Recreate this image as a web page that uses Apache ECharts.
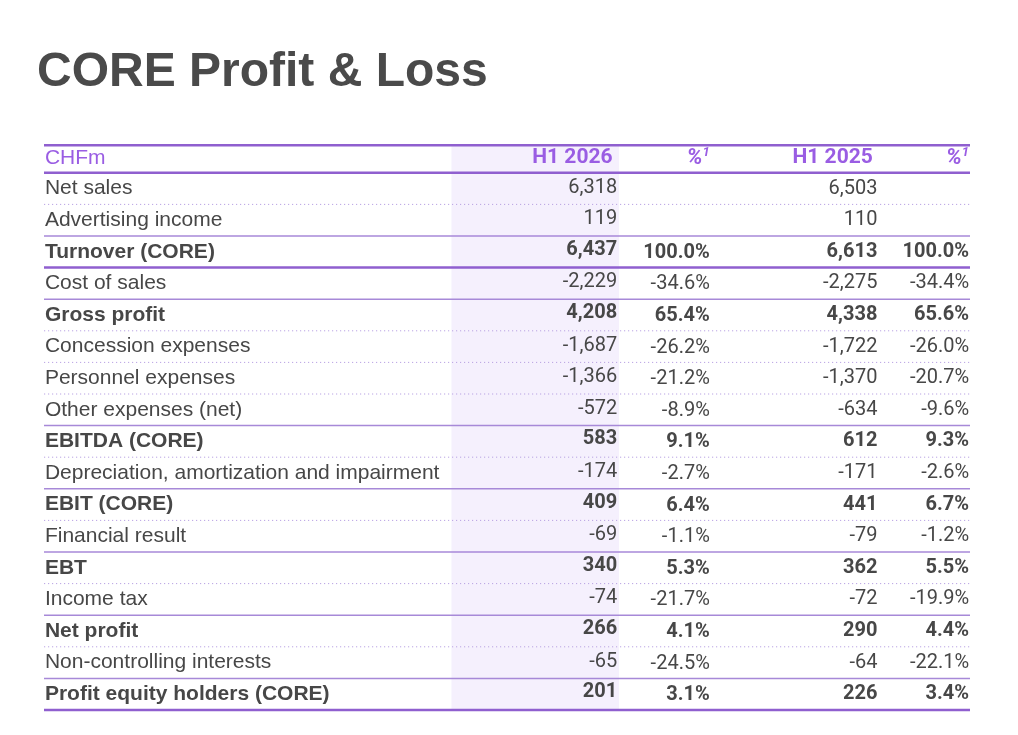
<!DOCTYPE html>
<html>
<head>
<meta charset="utf-8">
<script src="https://cdn.jsdelivr.net/npm/echarts@6/dist/echarts.min.js"></script>
<style>
  html, body { margin: 0; padding: 0; background: #fff; }
  #main { width: 1018px; height: 735px; }
</style>
</head>
<body>
<div id="main"></div>
<script>
// table data (CHFm)
var headerLabel = 'CHFm';
var colHeaders = ['H1 2026', '%', 'H1 2025', '%'];
var rowLabels = [
  'Net sales', 'Advertising income', 'Turnover (CORE)', 'Cost of sales', 'Gross profit',
  'Concession expenses', 'Personnel expenses', 'Other expenses (net)', 'EBITDA (CORE)',
  'Depreciation, amortization and impairment', 'EBIT (CORE)', 'Financial result', 'EBT',
  'Income tax', 'Net profit', 'Non-controlling interests', 'Profit equity holders (CORE)'
];
var h1_2026 = [6318, 119, 6437, -2229, 4208, -1687, -1366, -572, 583, -174, 409, -69, 340, -74, 266, -65, 201];
var pct2026 = [null, null, 100.0, -34.6, 65.4, -26.2, -21.2, -8.9, 9.1, -2.7, 6.4, -1.1, 5.3, -21.7, 4.1, -24.5, 3.1];
var h1_2025 = [6503, 110, 6613, -2275, 4338, -1722, -1370, -634, 612, -171, 441, -79, 362, -72, 290, -64, 226];
var pct2025 = [null, null, 100.0, -34.4, 65.6, -26.0, -20.7, -9.6, 9.3, -2.6, 6.7, -1.2, 5.5, -19.9, 4.4, -22.1, 3.4];
var boldRows = ['Turnover (CORE)', 'Gross profit', 'EBITDA (CORE)', 'EBIT (CORE)', 'EBT', 'Net profit', 'Profit equity holders (CORE)'];

// look
var PURPLE = '#8f5fcf';
var HEAD = '#9a5de3';
var INK = '#474747';
var LABEL_FONT = '"Liberation Sans", Arial, sans-serif';
var NUM_FONT = 'Roboto, "Liberation Sans", sans-serif';
// column anchors on the 0..100 x axis (right edges for numbers)
var colX = { label: 0.1, c1: 61.9, p1: 71.9, c2: 90.0, p2: 99.9, bandFrom: 44.0, bandTo: 62.1 };

var chart = echarts.init(document.getElementById('main'));

var cats = [headerLabel].concat(rowLabels);
var rows = cats.map(function (c, i) { return [0, i]; });

function fmtNum(v) { return v == null ? '' : v.toLocaleString('en-US'); }
function fmtPct(v) { return v == null ? '' : v.toFixed(1) + '%'; }

function ruleBelow(i) {
  if (i === 0 || i === cats.length - 1) return 'thick';
  if (cats[i] === 'Turnover (CORE)') return 'thick';
  return boldRows.indexOf(cats[i + 1]) >= 0 ? 'solid' : 'dot';
}

function renderRow(params, api) {
  var i = api.value(1);
  var left = api.coord([0, i])[0];
  var right = api.coord([100, i])[0];
  var cy = api.coord([0, i])[1];
  var h = api.size([0, 1])[1];
  var bottom = cy + h / 2;
  var kids = [];

  // horizontal rules
  var rule = ruleBelow(i);
  var ls = rule === 'thick' ? { stroke: PURPLE, lineWidth: 2.5 }
         : rule === 'solid' ? { stroke: '#a789d8', lineWidth: 1.5 }
         : { stroke: '#b9a3e3', lineWidth: 1, lineDash: [1.2, 2.8] };
  kids.push({ type: 'line', shape: { x1: left, y1: bottom, x2: right, y2: bottom }, style: ls });
  if (i === 0) {
    var top = cy - h / 2 + 4;
    kids.push({ type: 'line', shape: { x1: left, y1: top, x2: right, y2: top }, style: { stroke: PURPLE, lineWidth: 2.5 } });
  }

  function txt(str, xv, align, font, size, weight, color, dy) {
    return {
      type: 'text',
      style: {
        text: str, x: api.coord([xv, i])[0], y: cy + (dy || 0),
        align: align, verticalAlign: 'middle',
        fontFamily: font, fontSize: size, fontWeight: weight, fill: color
      }
    };
  }

  if (i === 0) {
    kids.push(txt(headerLabel, colX.label, 'left', LABEL_FONT, 21, 'normal', HEAD, 1));
    kids.push(txt(colHeaders[0], colX.c1 - 0.5, 'right', NUM_FONT, 21, 'bold', HEAD, 1));
    kids.push(txt(colHeaders[2], colX.c2 - 0.5, 'right', NUM_FONT, 21, 'bold', HEAD, 1));
    [colX.p1, colX.p2].forEach(function (xv, k) {
      kids.push({
        type: 'text',
        style: {
          text: '{p|' + colHeaders[1 + 2 * k] + '}{s|1}',
          x: api.coord([xv, i])[0], y: cy + 1, align: 'right', verticalAlign: 'middle',
          rich: {
            p: { fontFamily: NUM_FONT, fontSize: 22, fontWeight: 'bold', fontStyle: 'italic', fill: HEAD },
            s: { fontFamily: NUM_FONT, fontSize: 13, fontWeight: 'bold', fontStyle: 'italic', fill: HEAD, verticalAlign: 'top', padding: [0, 0, 10, 0] }
          }
        }
      });
    });
  } else {
    var r = i - 1;
    var b = boldRows.indexOf(cats[i]) >= 0 ? 'bold' : 'normal';
    kids.push(txt(cats[i], colX.label, 'left', LABEL_FONT, 21, b, INK, 0));
    kids.push(txt(fmtNum(h1_2026[r]), colX.c1, 'right', NUM_FONT, 20, b, INK, b === 'bold' ? -2 : -1));
    kids.push(txt(fmtPct(pct2026[r]), colX.p1, 'right', NUM_FONT, 20, b, INK, 1));
    kids.push(txt(fmtNum(h1_2025[r]), colX.c2, 'right', NUM_FONT, 20, b, INK, 0));
    kids.push(txt(fmtPct(pct2025[r]), colX.p2, 'right', NUM_FONT, 20, b, INK, 0));
  }
  return { type: 'group', children: kids };
}

function renderBand(params, api) {
  var i = api.value(1);
  var x0 = api.coord([colX.bandFrom, i])[0];
  var x1 = api.coord([colX.bandTo, i])[0];
  var cy = api.coord([0, i])[1];
  var h = api.size([0, 1])[1];
  var y0 = i === 0 ? cy - h / 2 + 4 : cy - h / 2;
  return { type: 'rect', shape: { x: x0, y: y0, width: x1 - x0, height: cy + h / 2 - y0 }, style: { fill: '#f5f0fd' } };
}

chart.setOption({
  animation: false,
  title: {
    text: 'CORE Profit & Loss',
    left: 32, top: 44,
    textStyle: { fontFamily: LABEL_FONT, fontSize: 48, fontWeight: 'bold', color: '#4a4a4a' }
  },
  grid: { left: 44, right: 48, top: 141.2, bottom: 25 },
  xAxis: { type: 'value', min: 0, max: 100, show: false },
  yAxis: { type: 'category', data: cats, inverse: true, show: false },
  series: [
    { type: 'custom', z: 1, clip: false, renderItem: renderBand, data: rows, encode: { x: 0, y: 1 } },
    { type: 'custom', z: 2, clip: false, renderItem: renderRow, data: rows, encode: { x: 0, y: 1 } }
  ]
});
</script>
</body>
</html>
